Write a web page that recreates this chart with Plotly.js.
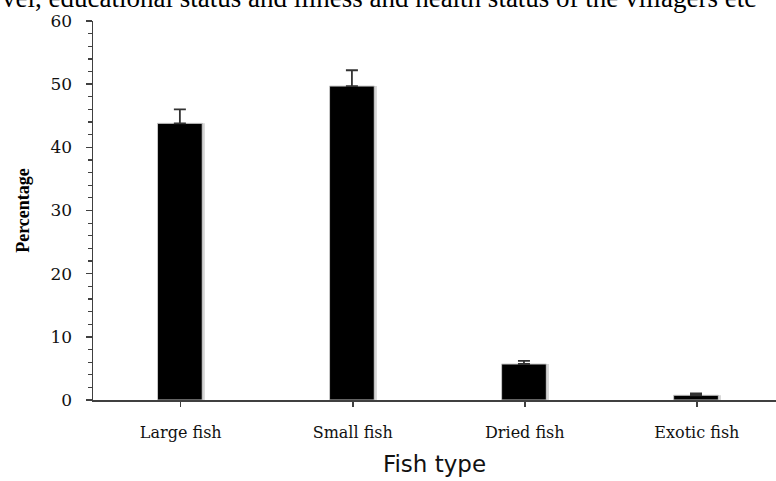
<!DOCTYPE html>
<html><head><meta charset="utf-8">
<script src="https://cdn.plot.ly/plotly-3.0.1.min.js"></script>
<style>body{margin:0;padding:0;background:#fff}#c{width:776px;height:481px}</style>
</head><body><div id="c"></div>
<script>
var categories = ["Large fish", "Small fish", "Dried fish", "Exotic fish"];
var percentages = [43.8, 49.7, 5.7, 0.75];
var errorsUp = [2.2, 2.5, 0.5, 0.3];
var yTicks = [0, 10, 20, 30, 40, 50, 60];
var pageText = "vel, educational status and illness and health status of the villagers etc";

var shadow = {
  type: 'bar', x: categories, y: percentages, width: 0.27, offset: -0.13,
  marker: {color: '#d6d6d6', line: {width: 0}}, hoverinfo: 'skip', showlegend: false
};
var bars = {
  type: 'bar', x: categories, y: percentages, width: 0.26, offset: -0.135,
  marker: {color: '#000000', line: {color: '#c8c8c8', width: 1}},
  error_y: {type: 'data', symmetric: false, array: errorsUp, arrayminus: [0,0,0,0],
            color: '#333333', thickness: 1.8, width: 6},
  showlegend: false
};
var layout = {
  width: 776, height: 481,
  margin: {l: 93, r: 0, t: 21, b: 81},
  paper_bgcolor: '#fff', plot_bgcolor: '#fff',
  barmode: 'overlay',
  font: {family: 'Liberation Serif, Times New Roman, serif', color: '#111'},
  xaxis: {
    range: [-0.51, 3.46], showgrid: false, zeroline: false,
    showline: true, linecolor: '#404040', linewidth: 1.5,
    ticks: 'outside', ticklen: 5, tickwidth: 1.5, tickcolor: '#404040',
    tickfont: {family: 'DejaVu Serif, serif', size: 16, color: '#111'},
    ticklabelstandoff: 12,
    title: {text: 'Fish type', font: {family: 'DejaVu Sans, Verdana, sans-serif', size: 23, color: '#111'}, standoff: 15}
  },
  yaxis: {
    range: [0, 60], tickvals: yTicks, showgrid: false, zeroline: false,
    showline: true, linecolor: '#404040', linewidth: 1.5,
    ticks: 'outside', ticklen: 6, tickwidth: 1.5, tickcolor: '#404040',
    minor: {dtick: 2, ticks: 'outside', ticklen: 4, tickwidth: 1.2, tickcolor: '#404040', showgrid: false},
    tickfont: {family: 'DejaVu Serif, serif', size: 17, color: '#111'},
    ticklabelstandoff: 10,
    title: {text: '<b>Percentage</b>', font: {family: 'Liberation Serif, serif', size: 18, color: '#000'}, standoff: 16}
  },
  annotations: [{
    xref: 'paper', yref: 'paper', x: -93/683, y: 1, xanchor: 'left', yanchor: 'bottom',
    yshift: 6, showarrow: false, text: pageText,
    font: {family: 'Liberation Serif, Times New Roman, serif', size: 27, color: '#000'}
  }]
};
Plotly.newPlot('c', [shadow, bars], layout, {displayModeBar: false, staticPlot: true});
</script></body></html>
